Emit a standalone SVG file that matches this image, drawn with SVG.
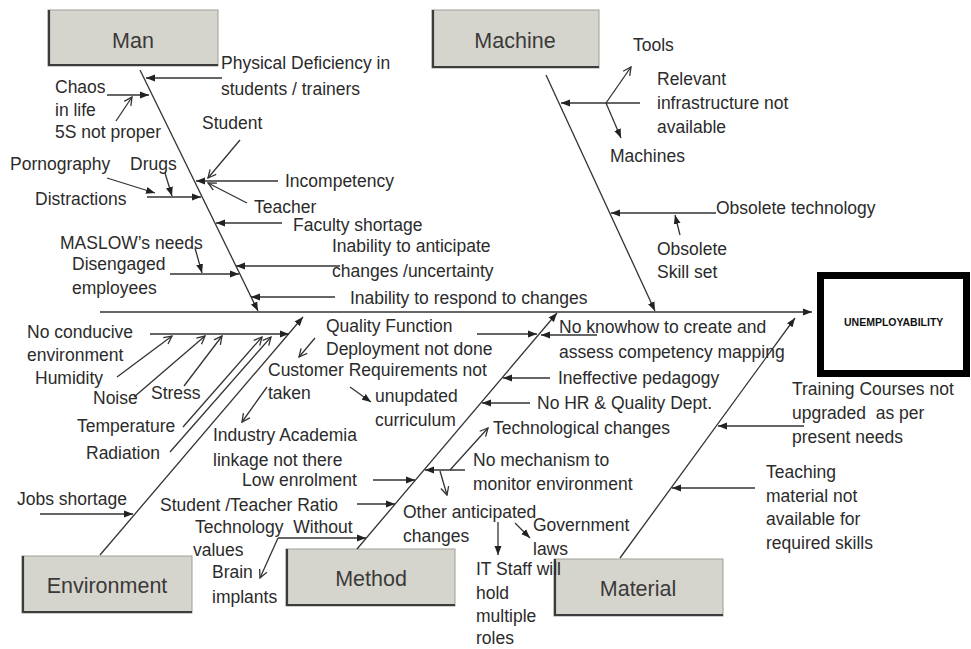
<svg xmlns="http://www.w3.org/2000/svg" width="971" height="649" viewBox="0 0 971 649">
  <style>
    .t { font-family: "Liberation Sans", Arial, sans-serif; font-size: 17.5px; fill: #2b2b2b; }
    .cat { font-family: "Liberation Sans", Arial, sans-serif; font-size: 21.5px; fill: #3a3a3a; text-anchor: middle; }
    .box { fill: #d6d5cd; stroke: #9d9d97; stroke-width: 1; }
    .edge { fill: none; stroke: #3c3c3c; stroke-width: 2.2; }
    .ln { fill: none; stroke: #333; stroke-width: 1.3; }
    .f { marker-end: url(#fa); }
    .o { marker-end: url(#oa); }
  </style>
  <defs>
    <marker id="fa" markerUnits="userSpaceOnUse" markerWidth="10" markerHeight="8" refX="9" refY="4" orient="auto">
      <path d="M0,0.5 L9,4 L0,7.5 z" fill="#222"/>
    </marker>
    <marker id="oa" markerUnits="userSpaceOnUse" markerWidth="10" markerHeight="10" refX="9" refY="5" orient="auto">
      <path d="M1,1 L9,5 L1,9" fill="none" stroke="#333" stroke-width="1.3"/>
    </marker>
  </defs>
  <rect width="971" height="649" fill="#ffffff"/>

  <!-- category boxes -->
  <g id="man">
    <rect class="box" x="48" y="10" width="170" height="56"/>
    <polyline class="edge" points="49,10 49,65 218,65"/>
    <text class="cat" x="133" y="48">Man</text>
  </g>
  <g id="machine">
    <rect class="box" x="432" y="10" width="167" height="58"/>
    <polyline class="edge" points="433,10 433,67 599,67"/>
    <text class="cat" x="515" y="48">Machine</text>
  </g>
  <g id="environment">
    <rect class="box" x="22" y="556" width="170" height="57"/>
    <polyline class="edge" points="23,556 23,612 192,612"/>
    <text class="cat" x="107" y="593">Environment</text>
  </g>
  <g id="method">
    <rect class="box" x="286" y="549" width="169" height="57"/>
    <polyline class="edge" points="287,549 287,605 455,605"/>
    <text class="cat" x="371" y="586">Method</text>
  </g>
  <g id="material">
    <rect class="box" x="554" y="559" width="169" height="57"/>
    <polyline class="edge" points="555,559 555,615 723,615"/>
    <text class="cat" x="638" y="596">Material</text>
  </g>
  <g id="effect">
    <rect x="820.5" y="275.5" width="146" height="98" fill="#ffffff" stroke="#000" stroke-width="7"/>
    <text x="844" y="326" font-family="'Liberation Sans', Arial, sans-serif" font-size="10.5" font-weight="bold" fill="#111">UNEMPLOYABILITY</text>
  </g>

  <!-- connectors -->
  <g id="connectors">
    <!-- spine and main bones -->
    <line class="ln f" x1="100" y1="312" x2="812" y2="312"/>
    <line class="ln f" x1="140" y1="70" x2="258" y2="311"/>
    <line class="ln f" x1="546" y1="75" x2="655" y2="311"/>
    <line class="ln f" x1="100" y1="555" x2="303" y2="317"/>
    <line class="ln f" x1="357" y1="549" x2="557" y2="313"/>
    <line class="ln f" x1="620" y1="558" x2="795" y2="318"/>

    <!-- Man causes -->
    <line class="ln f" x1="222" y1="78" x2="146" y2="78"/>
    <line class="ln f" x1="107" y1="95" x2="149" y2="95"/>
    <line class="ln o" x1="116" y1="121" x2="132" y2="97"/>
    <line class="ln o" x1="240" y1="140" x2="208" y2="178"/>
    <line class="ln f" x1="278" y1="181" x2="196" y2="181"/>
    <line class="ln o" x1="247" y1="203" x2="208" y2="183"/>
    <line class="ln f" x1="147" y1="197" x2="201" y2="197"/>
    <line class="ln f" x1="107" y1="178" x2="155" y2="193"/>
    <line class="ln f" x1="165" y1="173" x2="172" y2="196"/>
    <line class="ln f" x1="282" y1="223" x2="216" y2="223"/>
    <line class="ln f" x1="195" y1="248" x2="202" y2="273"/>
    <line class="ln f" x1="170" y1="274" x2="239" y2="274"/>
    <line class="ln f" x1="340" y1="266" x2="236" y2="266"/>
    <line class="ln f" x1="335" y1="297" x2="251" y2="297"/>

    <!-- Machine causes -->
    <line class="ln f" x1="640" y1="103" x2="561" y2="103"/>
    <line class="ln o" x1="606" y1="103" x2="631" y2="67"/>
    <line class="ln f" x1="606" y1="103" x2="621" y2="138"/>
    <line class="ln f" x1="716" y1="213" x2="611" y2="213"/>
    <line class="ln f" x1="680" y1="235" x2="675" y2="215"/>

    <!-- Environment causes -->
    <line class="ln f" x1="150" y1="334" x2="289" y2="334"/>
    <line class="ln o" x1="117" y1="377" x2="172" y2="336"/>
    <line class="ln o" x1="134" y1="397" x2="205" y2="336"/>
    <line class="ln o" x1="184" y1="386" x2="222" y2="336"/>
    <line class="ln o" x1="183" y1="427" x2="262" y2="337"/>
    <line class="ln o" x1="170" y1="452" x2="271" y2="337"/>
    <line class="ln f" x1="40" y1="514" x2="133" y2="514"/>

    <!-- Method causes -->
    <line class="ln o" x1="315" y1="338" x2="299" y2="357"/>
    <line class="ln o" x1="267" y1="387" x2="242" y2="422"/>
    <line class="ln f" x1="477" y1="334" x2="537" y2="334"/>
    <line class="ln f" x1="597" y1="335" x2="541" y2="335"/>
    <line class="ln f" x1="550" y1="378" x2="503" y2="378"/>
    <line class="ln f" x1="530" y1="403" x2="482" y2="403"/>
    <line class="ln f" x1="350" y1="387" x2="371" y2="402"/>
    <line class="ln f" x1="465" y1="470" x2="425" y2="470"/>
    <line class="ln o" x1="450" y1="470" x2="488" y2="428"/>
    <line class="ln o" x1="440" y1="471" x2="447" y2="495"/>
    <line class="ln f" x1="373" y1="480" x2="415" y2="480"/>
    <line class="ln f" x1="357" y1="504" x2="395" y2="504"/>
    <line class="ln f" x1="278" y1="538" x2="366" y2="538"/>
    <line class="ln o" x1="278" y1="538" x2="260" y2="578"/>
    <line class="ln f" x1="515" y1="523" x2="530" y2="538"/>
    <line class="ln f" x1="498" y1="522" x2="498" y2="555"/>

    <!-- Material causes -->
    <line class="ln f" x1="804" y1="426" x2="718" y2="426"/>
    <line class="ln f" x1="755" y1="488" x2="672" y2="488"/>
  </g>

  <!-- cause labels -->
  <g id="labels">
    <text class="t" x="221" y="69">Physical Deficiency in</text>
    <text class="t" x="221" y="95">students / trainers</text>
    <text class="t" x="55" y="93">Chaos</text>
    <text class="t" x="55" y="116">in life</text>
    <text class="t" x="55" y="138">5S not proper</text>
    <text class="t" x="202" y="129">Student</text>
    <text class="t" x="10" y="170">Pornography</text>
    <text class="t" x="130" y="170">Drugs</text>
    <text class="t" x="285" y="187">Incompetency</text>
    <text class="t" x="35" y="205">Distractions</text>
    <text class="t" x="254" y="213">Teacher</text>
    <text class="t" x="293" y="231">Faculty shortage</text>
    <text class="t" x="60" y="249">MASLOW’s needs</text>
    <text class="t" x="332" y="252">Inability to anticipate</text>
    <text class="t" x="72" y="270">Disengaged</text>
    <text class="t" x="332" y="277">changes /uncertainty</text>
    <text class="t" x="72" y="294">employees</text>
    <text class="t" x="350" y="304">Inability to respond to changes</text>

    <text class="t" x="633" y="51">Tools</text>
    <text class="t" x="657" y="85">Relevant</text>
    <text class="t" x="657" y="109">infrastructure not</text>
    <text class="t" x="657" y="133">available</text>
    <text class="t" x="610" y="162">Machines</text>
    <text class="t" x="716" y="214">Obsolete technology</text>
    <text class="t" x="657" y="255">Obsolete</text>
    <text class="t" x="657" y="278">Skill set</text>

    <text class="t" x="27" y="338">No conducive</text>
    <text class="t" x="27" y="361">environment</text>
    <text class="t" x="35" y="384">Humidity</text>
    <text class="t" x="93" y="404">Noise</text>
    <text class="t" x="151" y="399">Stress</text>
    <text class="t" x="77" y="432">Temperature</text>
    <text class="t" x="86" y="459">Radiation</text>
    <text class="t" x="17" y="505">Jobs shortage</text>

    <text class="t" x="326" y="332">Quality Function</text>
    <text class="t" x="326" y="355">Deployment not done</text>
    <text class="t" x="268" y="376">Customer Requirements not</text>
    <text class="t" x="268" y="399">taken</text>
    <text class="t" x="375" y="402">unupdated</text>
    <text class="t" x="375" y="426">curriculum</text>
    <text class="t" x="213" y="441">Industry Academia</text>
    <text class="t" x="213" y="466">linkage not there</text>
    <text class="t" x="242" y="486">Low enrolment</text>
    <text class="t" x="160" y="511">Student /Teacher Ratio</text>
    <text class="t" x="195" y="533" xml:space="preserve">Technology  Without</text>
    <text class="t" x="193" y="556">values</text>
    <text class="t" x="212" y="578">Brain</text>
    <text class="t" x="212" y="603">implants</text>
    <text class="t" x="559" y="333">No knowhow to create and</text>
    <text class="t" x="559" y="358">assess competency mapping</text>
    <text class="t" x="558" y="384">Ineffective pedagogy</text>
    <text class="t" x="537" y="409">No HR &amp; Quality Dept.</text>
    <text class="t" x="493" y="434">Technological changes</text>
    <text class="t" x="473" y="466">No mechanism to</text>
    <text class="t" x="473" y="490">monitor environment</text>
    <text class="t" x="403" y="518">Other anticipated</text>
    <text class="t" x="403" y="542">changes</text>
    <text class="t" x="533" y="531">Government</text>
    <text class="t" x="533" y="555">laws</text>
    <text class="t" x="476" y="575">IT Staff will</text>
    <text class="t" x="476" y="599">hold</text>
    <text class="t" x="476" y="622">multiple</text>
    <text class="t" x="476" y="644">roles</text>

    <text class="t" x="792" y="395">Training Courses not</text>
    <text class="t" x="792" y="419" xml:space="preserve">upgraded  as per</text>
    <text class="t" x="792" y="443">present needs</text>
    <text class="t" x="766" y="478">Teaching</text>
    <text class="t" x="766" y="502">material not</text>
    <text class="t" x="766" y="525">available for</text>
    <text class="t" x="766" y="549">required skills</text>
  </g>
</svg>
